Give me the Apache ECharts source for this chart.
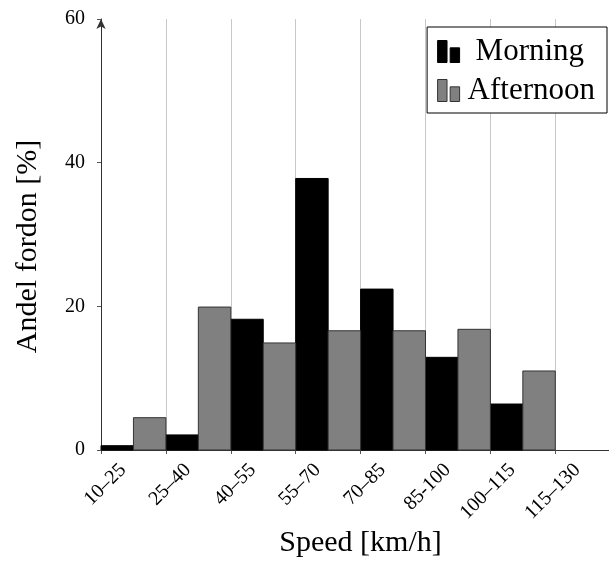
<!DOCTYPE html>
<html><head><meta charset="utf-8">
<script src="https://cdn.jsdelivr.net/npm/echarts@6/dist/echarts.min.js"></script>
<style>html,body{margin:0;padding:0;background:#fff}#c{width:609px;height:575px}</style>
</head><body><div id="c"></div>
<script>
const categories = ['10–25','25–40','40–55','55–70','70–85','85-100','100–115','115–130'];
const morning = [0.6, 2.1, 18.2, 37.8, 22.4, 12.9, 6.4];
const afternoon = [4.5, 19.9, 14.9, 16.6, 16.6, 16.8, 11.0];
const yTicks = [0, 20, 40, 60];

const FONT = 'Liberation Serif';
const iconPath = 'path://M0,0h9v21h-9z M12,7h9v14h-9z';
const XMAX = 7.843;

function makeRender(offset) {
  return function (params, api) {
    const x = api.value(0), v = api.value(1);
    const p0 = api.coord([x + offset, v]);
    const p1 = api.coord([x + offset + 0.5, 0]);
    return {
      type: 'rect',
      shape: { x: p0[0], y: p0[1], width: p1[0] - p0[0], height: p1[1] - p0[1] },
      style: api.style()
    };
  };
}
function catLabel(v) {
  const r = Math.round(v);
  return Math.abs(v - r) < 1e-6 && categories[r] ? categories[r] : '';
}

const chart = echarts.init(document.getElementById('c'), null, { renderer: 'canvas' });
chart.setOption({
  animation: false,
  backgroundColor: '#fff',
  grid: [
    { left: 101, width: 509, top: 19, bottom: 125, containLabel: false, outerBoundsMode: 'none' },
    { left: 123, width: 509, top: 19, bottom: 125, containLabel: false, outerBoundsMode: 'none' }
  ],
  legend: {
    orient: 'vertical', right: 2, top: 27,
    backgroundColor: '#fff', borderColor: '#000', borderWidth: 1, borderRadius: 0,
    padding: [9, 12, 7, 10],
    itemWidth: 22, itemHeight: 22, itemGap: 8,
    textStyle: { fontFamily: FONT, fontSize: 31, color: '#000' },
    data: [
      { name: 'Morning', icon: iconPath, itemStyle: { color: '#000', borderColor: '#000', borderWidth: 1 }, textStyle: { padding: [0, 0, 0, 11] } },
      { name: 'Afternoon', icon: iconPath, itemStyle: { color: '#808080', borderColor: '#333', borderWidth: 1 }, textStyle: { padding: [0, 0, 0, 3] } }
    ]
  },
  xAxis: [
    {
      gridIndex: 0, type: 'value', min: 0, max: XMAX, interval: 1,
      name: 'Speed [km/h]', nameLocation: 'middle', nameGap: 78,
      nameTextStyle: { fontFamily: FONT, fontSize: 30, color: '#000', padding: [0, 0, 0, 10] },
      axisLine: { show: true, lineStyle: { color: '#333', width: 1 } },
      axisTick: { show: true, length: 4, lineStyle: { color: '#555' } },
      splitLine: { show: true, lineStyle: { color: '#c8c8c8', width: 1 } },
      axisLabel: { show: false }
    },
    {
      gridIndex: 1, type: 'value', min: 0, max: XMAX, interval: 1,
      axisLine: { show: false }, axisTick: { show: false }, splitLine: { show: false },
      axisLabel: {
        rotate: 45, fontFamily: FONT, fontSize: 20, color: '#000', margin: 17,
        formatter: catLabel
      }
    }
  ],
  yAxis: [
    {
      gridIndex: 0, type: 'value', min: yTicks[0], max: yTicks[yTicks.length - 1], interval: yTicks[1] - yTicks[0],
      name: 'Andel fordon [%]', nameLocation: 'middle', nameGap: 58,
      nameTextStyle: { fontFamily: FONT, fontSize: 30, color: '#000', padding: [0, 24, 0, 0] },
      axisLine: { show: true, symbol: ['none', 'arrow'], symbolSize: [7, 10], lineStyle: { color: '#333', width: 1 } },
      axisTick: { show: true, length: 4, lineStyle: { color: '#555' } },
      splitLine: { show: false },
      axisLabel: { fontFamily: FONT, fontSize: 20, color: '#000', margin: 16 }
    },
    {
      gridIndex: 1, type: 'value', min: 0, max: 60, interval: 20, show: false
    }
  ],
  series: [
    {
      name: 'Morning', type: 'custom', renderItem: makeRender(0),
      xAxisIndex: 0, yAxisIndex: 0,
      itemStyle: { color: '#000', borderColor: '#000', borderWidth: 1 },
      encode: { x: 0, y: 1 },
      data: morning.map((v, i) => [i, v]), z: 3
    },
    {
      name: 'Afternoon', type: 'custom', renderItem: makeRender(0.5),
      xAxisIndex: 0, yAxisIndex: 0,
      itemStyle: { color: '#808080', borderColor: '#333', borderWidth: 1 },
      encode: { x: 0, y: 1 },
      data: afternoon.map((v, i) => [i, v]), z: 3
    }
  ]
});
</script></body></html>
